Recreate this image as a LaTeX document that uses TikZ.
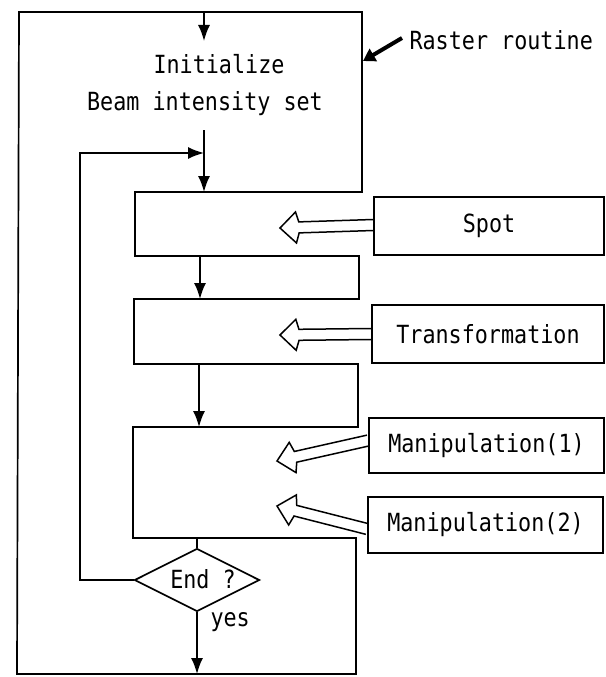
\documentclass[tikz,border=0pt]{standalone}
\usepackage{fontspec}
\setmonofont[FakeStretch=0.87]{DejaVu Sans Mono}
\usetikzlibrary{arrows.meta,shapes.geometric,calc}
% hollow double arrow from a block (#1) to a point (#2)
\newcommand\feedarrow[2]{%
  \draw[feedline] ($(#1)!5.5pt!90:(#2)$)
    -- ($(#2)!19pt!(#1)!5.5pt!-90:(#1)$)
    -- ($(#2)!16pt!(#1)!15.5pt!-90:(#1)$)
    -- (#2)
    -- ($(#2)!16pt!(#1)!15.5pt!90:(#1)$)
    -- ($(#2)!19pt!(#1)!5.5pt!90:(#1)$)
    -- ($(#1)!5.5pt!-90:(#2)$);}
\begin{document}
\begin{tikzpicture}[x=1pt,y=-1pt,
  every node/.style={font=\ttfamily\fontsize{25}{28}\selectfont},
  outline/.style={line width=1.7pt, line join=miter},
  flow/.style={line width=1.6pt, -{Latex[length=16pt,width=12pt]}},
  feedline/.style={line width=1.5pt, line join=miter},
  extbox/.style={draw, line width=1.7pt, minimum height=58pt, inner sep=0pt},
  decision/.style={draw, line width=1.7pt, diamond, aspect=2, inner sep=0pt,
    minimum width=125pt, minimum height=63pt},
  pointer/.style={line width=4pt, -{Triangle[length=12pt,width=14pt]}}]
\useasboundingbox (0,0) rectangle (605,677);

% outer routine outline with its stepped blocks
\draw[outline] (19,12) -- (362,12) -- (362,192) -- (135,192) -- (135,256)
  -- (359,256) -- (359,299) -- (134,299) -- (134,364) -- (358,364)
  -- (358,427) -- (133,427) -- (133,538) -- (356,538) -- (356,674)
  -- (17,674) -- cycle;

% texts
\node (init) at (219,64) {Initialize};
\node (beam) at (205,104) {Beam intensity set};
\node[anchor=west] (raster) at (406,40) {Raster routine};

% external blocks
\node[extbox, minimum width=230pt] (spot) at (489,226) {Spot};
\node[extbox, minimum width=232pt] (trans) at (488,334) {Transformation};
\node[extbox, minimum width=235pt, minimum height=55pt] (man1) at (486.5,445.5) {Manipulation(1)};
\node[extbox, minimum width=235pt, minimum height=56pt] (man2) at (485.5,525) {Manipulation(2)};

% decision
\node[decision] (end) at (197,580) {};
\node at (203,579) {End ?};
\node[anchor=west] (yes) at (207,622) {yes};

% flow coordinates
\coordinate (entry) at (204,12);
\coordinate (entryend) at (204,41);
\coordinate (loopstart) at (204,130);
\coordinate (join) at (204,153);
\coordinate (blk1top) at (204,192);
\coordinate (blk1bot) at (200,256);
\coordinate (blk2top) at (200,299);
\coordinate (blk2bot) at (199,364);
\coordinate (blk3top) at (199,427);
\coordinate (blk3bot) at (197,538);
\coordinate (exit) at (197,674);
\coordinate (loopleft) at (80,580);
\coordinate (looptop) at (80,153);

\draw[flow] (entry) -- (entryend);
\draw[line width=1.6pt] (loopstart) -- (join);
\draw[flow] (join) -- (blk1top);
\draw[flow] (end.west) -- (loopleft) -- (looptop) -- (join);
\draw[flow] (blk1bot) -- (blk2top);
\draw[flow] (blk2bot) -- (blk3top);
\draw[line width=1.6pt] (blk3bot) -- (end.north);
\draw[flow] (end.south) -- (exit);

% data feeds into the routine
\coordinate (spotout) at ([yshift=1pt]spot.west);
\coordinate (transout) at (trans.west);
\coordinate (man1out) at ([yshift=5pt]man1.west);
\coordinate (man2out) at ([yshift=-4pt]man2.west);
\coordinate (spotin) at (280,228);
\coordinate (transin) at (280,335);
\coordinate (man1in) at (277,461);
\coordinate (man2in) at (277,506);
\feedarrow{spotout}{spotin}
\feedarrow{transout}{transin}
\feedarrow{man1out}{man1in}
\feedarrow{man2out}{man2in}

% pointer to the routine outline
\coordinate (rasterhit) at (363,61);
\draw[pointer] (raster.west) ++(-4,-2) -- (rasterhit);
\end{tikzpicture}
\end{document}
